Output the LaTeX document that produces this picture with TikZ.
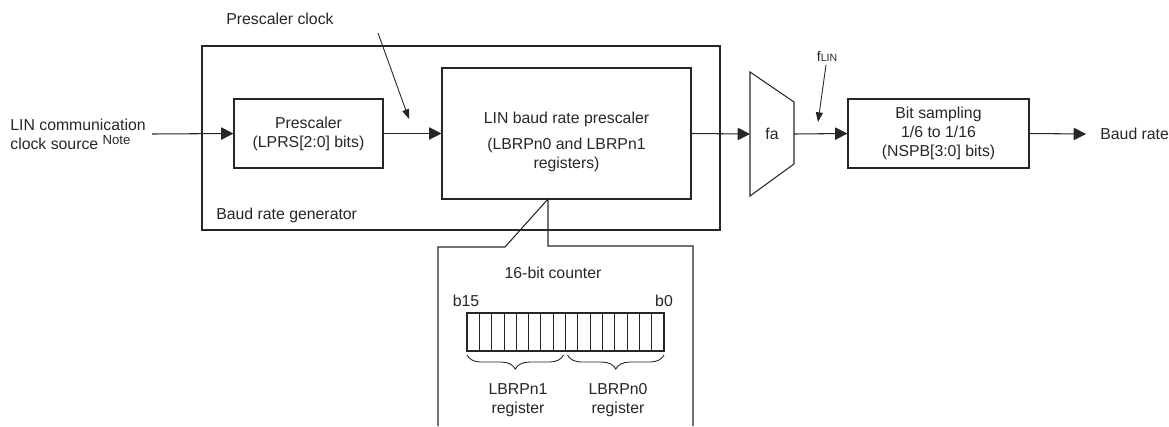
\documentclass[tikz,border=0pt]{standalone}
\usepackage{fontspec}
\setmainfont{Liberation Sans}
\usetikzlibrary{arrows.meta,decorations.pathreplacing}

\begin{document}
\begin{tikzpicture}[x=0.2mm, y=-0.2mm, font=\fontsize{9}{10.8}\selectfont, color=black!85,
  blk/.style={rectangle, draw, line width=0.6pt, inner sep=0pt, align=center},
  txt/.style={align=center, inner sep=0pt},
  sig/.style={-{Triangle[length=7pt,width=7pt]}, line width=0.6pt},
  tag/.style={-{Triangle[length=5.5pt,width=4pt]}, line width=0.5pt},
  brc/.style={decorate, decoration={brace, mirror, amplitude=8pt}, line width=0.5pt}]
\useasboundingbox (0,0) rectangle (1169,426);

% baud rate generator
\node[blk, line width=1pt, minimum width=10.36cm, minimum height=3.68cm] (gen) at (461,138) {};
\node[txt, anchor=west] (genlbl) at (216,215) {Baud rate generator};
\node[blk, minimum width=2.98cm, minimum height=1.38cm] (pre) at (308.5,133.5) {Prescaler\\(LPRS[2:0] bits)};
\node[blk, minimum width=4.98cm, minimum height=2.62cm] (lbrp) at (566.5,133.5) {};
\node[txt] (lbrptxt) at (566.5,142) {LIN baud rate prescaler\\[4pt](LBRPn0 and LBRPn1\\registers)};

% fa
\draw[line width=0.6pt] (750,72) -- (794,102) -- (794,164) -- (750,196) -- cycle;
\node[txt] (fa) at (772,134) {fa};
\coordinate (fain) at (750,134);
\coordinate (faout) at (794,134);

\node[blk, minimum width=3.62cm, minimum height=1.38cm] (bits) at (938.5,133.5) {Bit sampling\\1/6 to 1/16\\(NSPB[3:0] bits)};

% in / out
\node[txt, align=left, anchor=west] (src) at (10,134) {LIN communication\\clock source \raisebox{0.6ex}{\fontsize{7.5}{8}\selectfont Note}};
\coordinate (srcout) at (152,134);
\node[txt, anchor=west, inner xsep=2.8mm] (baud) at (1086,134) {Baud rate};

\draw[sig] (srcout) -- (pre.west);
\draw[sig] (pre.east) -- (lbrp.west);
\draw[sig] (lbrp.east) -- (fain);
\draw[sig] (faout) -- (bits.west);
\draw[sig] (bits.east) -- (baud.west);

% clock labels
\node[txt] (pclk) at (280,19) {Prescaler clock};
\coordinate (pclka) at (378,33);
\coordinate (pclkb) at (409,119);
\draw[tag] (pclka) -- (pclkb);
\node[txt] (flin) at (827,56) {\fontsize{8}{8}\selectfont f{\fontsize{6}{6}\selectfont LIN}};
\coordinate (flina) at (826,65);
\coordinate (flinb) at (818,122);
\draw[tag] (flina) -- (flinb);

% 16-bit counter
\draw[line width=0.6pt] (438,426) -- (438,247) -- (505,247) -- (548,199) -- (548,246) -- (693,246) -- (693,426);
\node[txt] (cnt) at (553,273) {16-bit counter};
\node[txt] (b15) at (466,301) {b15};
\node[txt] (b0) at (664,301) {b0};
\node[draw, line width=1.2pt, minimum width=3.94cm, minimum height=0.76cm, inner sep=0pt] (reg) at (565.5,332) {};
\foreach \i in {1,...,15}
  \draw[line width=0.5pt] (467+\i*12.3125,313) -- ++(0,38);
\draw[brc] (467,355) -- (563.5,355);
\draw[brc] (567.5,355) -- (664,355);
\node[txt] (hi) at (518,400) {LBRPn1\\register};
\node[txt] (lo) at (618,400) {LBRPn0\\register};
\end{tikzpicture}
\end{document}
